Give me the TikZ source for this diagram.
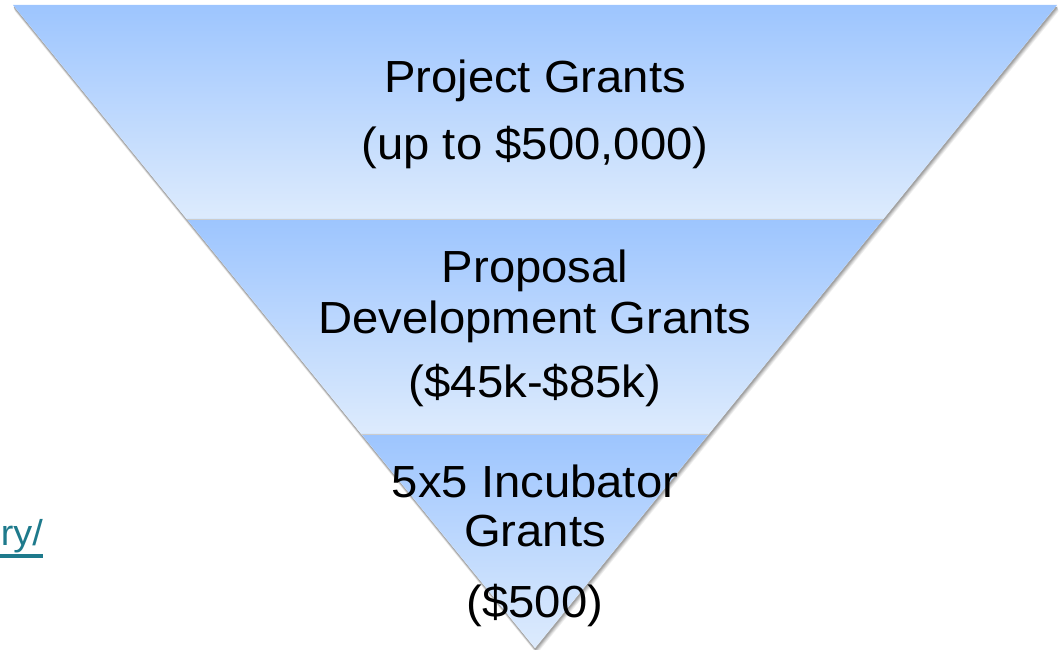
\documentclass[tikz,border=0pt]{standalone}
\usepackage{fontspec}
\setmainfont{Liberation Sans}
\definecolor{bandtop}{HTML}{9DC5FE}
\definecolor{bandbot}{HTML}{DDEBFD}
\definecolor{linkcol}{RGB}{30,122,140}
\begin{document}
\begin{tikzpicture}[x=1pt,y=1pt,
  lbl/.style={anchor=base,inner sep=0pt,text=black,font=\fontsize{45}{52}\selectfont},
  band/.style={top color=bandtop,bottom color=bandbot},
  sep/.style={draw=black!20,line width=0.8pt}]
\useasboundingbox (0,0) rectangle (1060,650);
% key points (y up = 650 - image y)
\coordinate (A) at (13,645);
\coordinate (B) at (1057,645);
\coordinate (C) at (535,2);
\coordinate (L1) at (186.7,431);
\coordinate (R1) at (883.3,431);
\coordinate (L2) at (361.3,216);
\coordinate (R2) at (708.7,216);
% soft drop shadow
\foreach \d/\c in {6/6,5/12,4/20,3/28,2/36}{
  \fill[black!\c] ([xshift=0.3*\d,yshift=-\d]A) -- ([xshift=0.3*\d,yshift=-\d]B) -- ([xshift=0.3*\d,yshift=-\d]C) -- cycle;
}
\fill[white] (A) -- (B) -- (C) -- cycle;
% bands
\shade[band] (A) -- (B) -- (R1) -- (L1) -- cycle;
\shade[band] (L1) -- (R1) -- (R2) -- (L2) -- cycle;
\shade[band] (L2) -- (R2) -- (C) -- cycle;
\draw[sep] (L1) -- (R1);
\draw[sep] (L2) -- (R2);
% texts
\node[lbl] (t1) at (535,557) {\scalebox{1.05}[1]{Project Grants}};
\node[lbl] (t2) at (535,490) {\scalebox{1.05}[1]{(up to \$500,000)}};
\node[lbl] (m1) at (535,367) {\scalebox{1.05}[1]{Proposal}};
\node[lbl] (m2) at (535,316) {\scalebox{1.05}[1]{Development Grants}};
\node[lbl] (m3) at (535,252) {\scalebox{1.05}[1]{(\$45k-\$85k)}};
\node[lbl] (b1) at (535,152) {\scalebox{1.05}[1]{5x5 Incubator}};
\node[lbl] (b2) at (535,103) {\scalebox{1.05}[1]{Grants}};
\node[lbl] (b3) at (535,32) {\scalebox{1.05}[1]{(\$500)}};
% link fragment
\node[anchor=base east,inner sep=0pt,text=linkcol,font=\fontsize{36}{40}\selectfont] (lnk) at (43,104) {\scalebox{1.05}[1]{ry/}};
\coordinate (u1) at (0,94);
\coordinate (u2) at (42.7,94);
\draw[linkcol,line width=3.2pt] (u1) -- (u2);
\end{tikzpicture}
\end{document}
